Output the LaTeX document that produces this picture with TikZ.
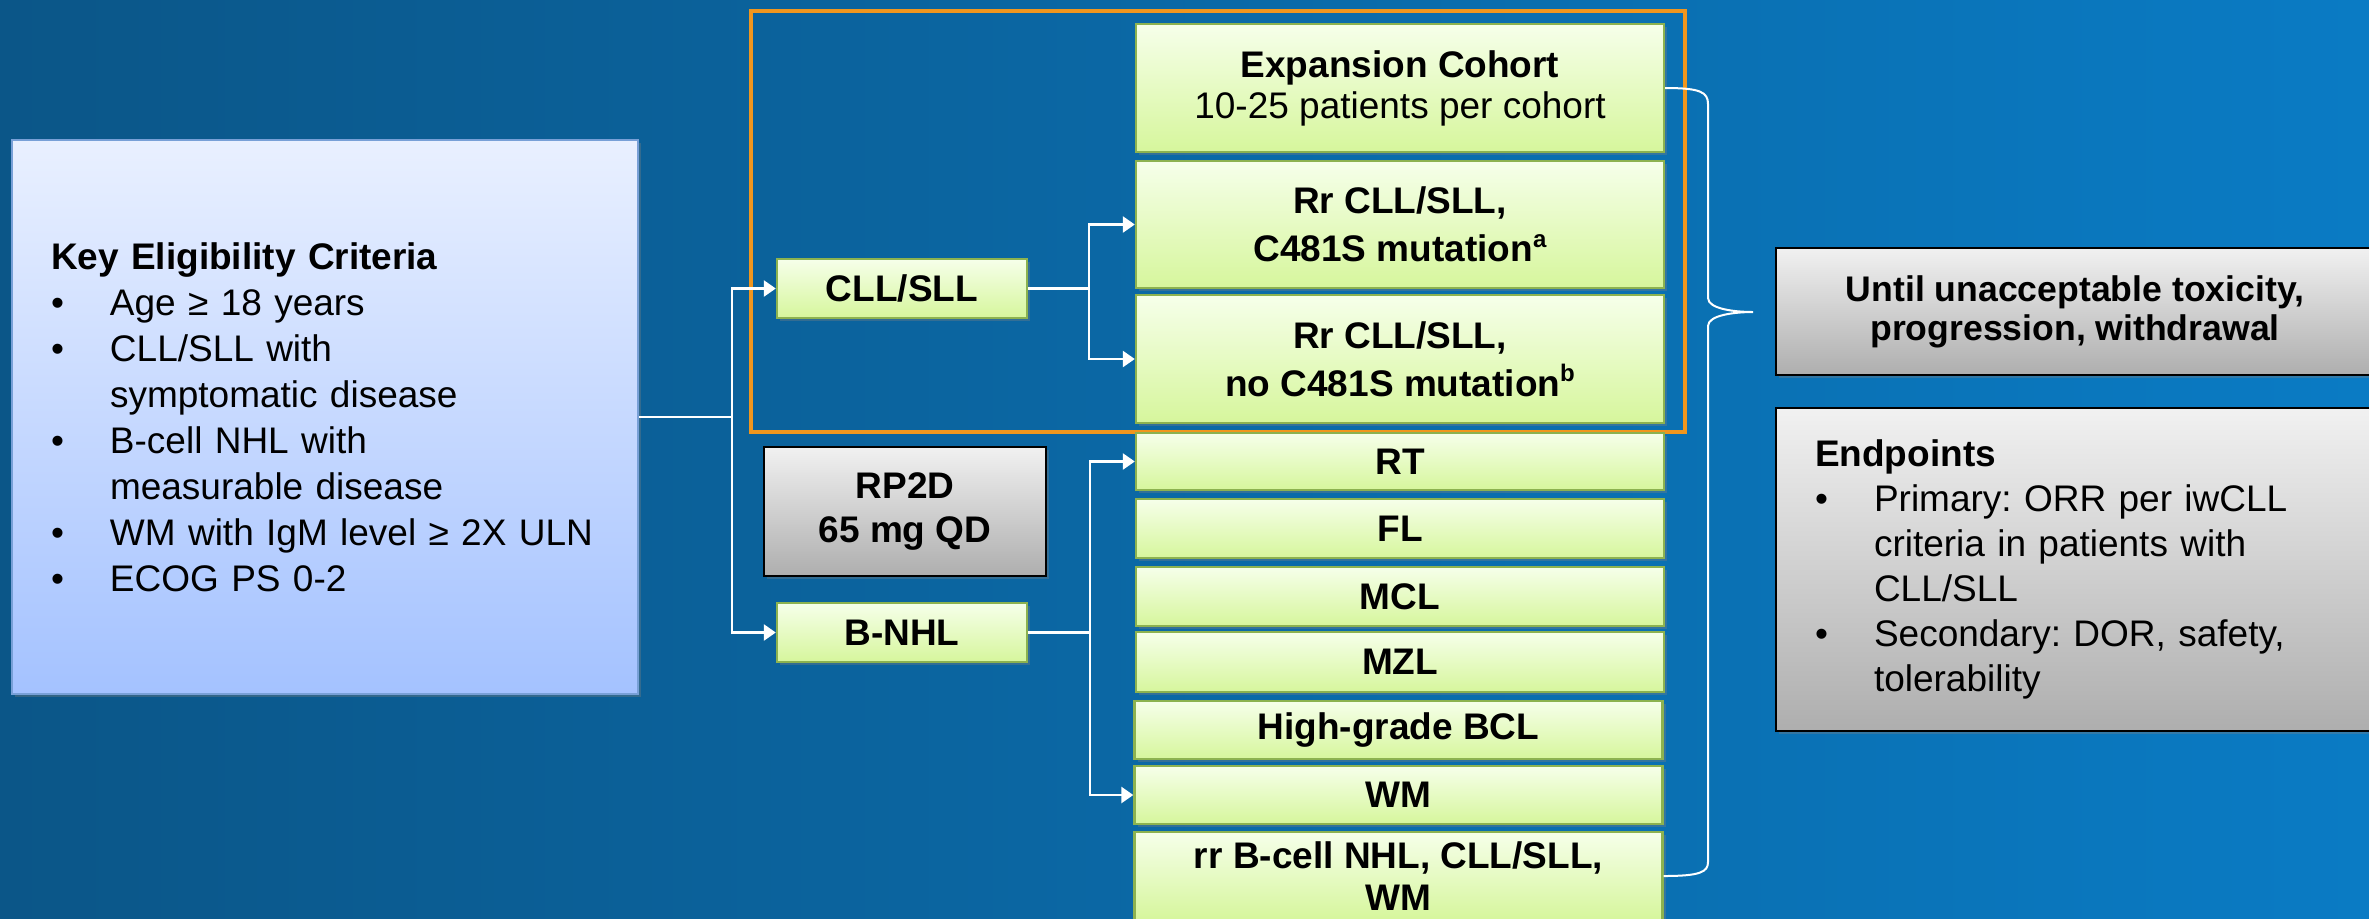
\documentclass[tikz,border=0pt]{standalone}
\usepackage{fontspec}
\setmainfont{Liberation Sans}
\usetikzlibrary{arrows.meta,shadows,positioning}
\definecolor{bgl}{RGB}{11,86,136}
\definecolor{bgr}{RGB}{10,123,196}
\definecolor{grtop}{RGB}{246,255,234}
\definecolor{grbot}{RGB}{214,246,156}
\definecolor{grline}{RGB}{140,178,80}
\definecolor{ketop}{RGB}{233,240,255}
\definecolor{kebot}{RGB}{164,194,255}
\definecolor{keline}{RGB}{120,160,215}
\definecolor{gytop}{RGB}{241,241,241}
\definecolor{gybot}{RGB}{174,174,174}
\definecolor{orng}{RGB}{240,150,30}
\newcommand\bul[1]{\makebox[29.5pt][l]{\textbullet}#1}
\newcommand\cnt[1]{\hspace*{29.5pt}#1}
\newcommand\sups[1]{\raisebox{0.75ex}{\fontsize{12}{12}\selectfont#1}}
\frenchspacing

\begin{document}
\begin{tikzpicture}[
    x=0.5pt,y=-0.5pt,
    shd/.style={drop shadow={opacity=0.35,shadow xshift=1.5pt,shadow yshift=-1.5pt}},
    grn/.style={shd,draw=grline,line width=1.2pt,top color=grtop,bottom color=grbot,
      minimum width=264pt,inner sep=0pt,align=center,font=\fontsize{18.5}{21}\selectfont\bfseries},
    gry/.style={shd,draw=black,line width=1.4pt,top color=gytop,bottom color=gybot,
      inner sep=0pt,align=center,font=\fontsize{18.5}{22}\selectfont\bfseries},
    line/.style={white,line width=1.3pt},
    arr/.style={line,-{Triangle[width=8pt,length=6pt]}},
    frame/.style={orng,line width=2pt}
    ]
    \clip (0, 0) rectangle (2369, 918);
    \shade[left color=bgl,right color=bgr] (0, 0) rectangle (2369, 918);
    \node[shd,draw=keline,line width=0.8pt,top color=ketop,bottom color=kebot,
      minimum width=313pt,minimum height=277pt,text width=274pt,inner xsep=19.5pt,
      align=left,font=\fontsize{18.5}{23}\selectfont] (key) at (325, 417) {%
      \textbf{Key Eligibility Criteria}\\
      \bul{Age ≥ 18 years}\\
      \bul{CLL/SLL with}\\
      \cnt{symptomatic disease}\\
      \bul{B-cell NHL with}\\
      \cnt{measurable disease}\\
      \bul{WM with IgM level ≥ 2X ULN}\\
      \bul{ECOG PS 0-2}};
    \draw[frame] (751, 11) rectangle (1685, 432);
    \node[grn,minimum height=64pt,font=\fontsize{18.5}{20.5}\selectfont\bfseries] (exp) at (1400, 88)
      {Expansion Cohort\\{\mdseries 10-25 patients per cohort}};
    \node[grn,minimum height=63.5pt,font=\fontsize{18.5}{24}\selectfont\bfseries] (rra) at (1400, 224.5)
      {Rr CLL/SLL,\\C481S mutation\sups{a}};
    \node[grn,minimum height=64pt,font=\fontsize{18.5}{24}\selectfont\bfseries] (rrb) at (1400, 359)
      {Rr CLL/SLL,\\no C481S mutation\sups{b}};
    \node[grn,minimum height=28.5pt] (rt) at (1400, 461.5) {RT};
    \node[grn,minimum height=29.5pt] (fl) at (1400, 528.5) {FL};
    \node[grn,minimum height=29.5pt] (mcl) at (1400, 596.5) {MCL};
    \node[grn,minimum height=30pt] (mzl) at (1400, 662) {MZL};
    \node[grn,minimum height=29pt] (hgb) at (1398.5, 730) {High-grade BCL};
    \node[grn,minimum height=29pt] (wm) at (1398.5, 795) {WM};
    \node[grn,minimum height=44pt] (rrall) at (1398.5, 876) {rr B-cell NHL, CLL/SLL,\\WM};
    \node[grn,minimum width=125pt,minimum height=29.5pt] (cll) at (902, 288.5) {CLL/SLL};
    \node[grn,minimum width=125pt,minimum height=29.5pt] (bnhl) at (902, 632.5) {B-NHL};
    \node[gry,minimum width=141pt,minimum height=64.5pt] (rp2d) at (905, 511.5) {RP2D\\65 mg QD};
    \node[gry,minimum width=299pt,minimum height=63.5pt,font=\fontsize{17.8}{19.5}\selectfont\bfseries] (until) at (2075, 311.5)
      {Until unacceptable toxicity,\\progression, withdrawal};
    \node[gry,minimum width=299pt,minimum height=161.5pt,text width=260pt,inner xsep=19.5pt,
      align=left,font=\fontsize{18.5}{22.5}\selectfont] (endp) at (2075, 569.5) {%
      \textbf{Endpoints}\\
      \bul{Primary: ORR per iwCLL}\\
      \cnt{criteria in patients with}\\
      \cnt{CLL/SLL}\\
      \bul{Secondary: DOR, safety,}\\
      \cnt{tolerability}};
    \coordinate (ja) at (732, 417);
    \coordinate (jb) at (1089, 288.5);
    \coordinate (jc) at (1090, 632.5);
    \coordinate (tip) at (1753, 312);
    \draw[line] (key.east) -- (ja);
    \draw[arr] (ja) |- (cll.west);
    \draw[arr] (ja) |- (bnhl.west);
    \draw[line] (cll.east) -- (jb);
    \draw[arr] (jb) |- (rra.west);
    \draw[arr] (jb) |- (rrb.west);
    \draw[line] (bnhl.east) -- (jc);
    \draw[arr] (jc) |- (rt.west);
    \draw[arr] (jc) |- (wm.west);
    \draw[line,line width=1pt] (exp.east) .. controls (1700, 88) and (1708, 92) .. (1708, 104)
      -- (1708, 298) .. controls (1708, 309) and (1735, 312) .. (tip)
      .. controls (1735, 312) and (1708, 315) .. (1708, 326)
      -- (1708, 862) .. controls (1708, 872) and (1700, 876) .. (rrall.east);
  \end{tikzpicture}
\end{document}
